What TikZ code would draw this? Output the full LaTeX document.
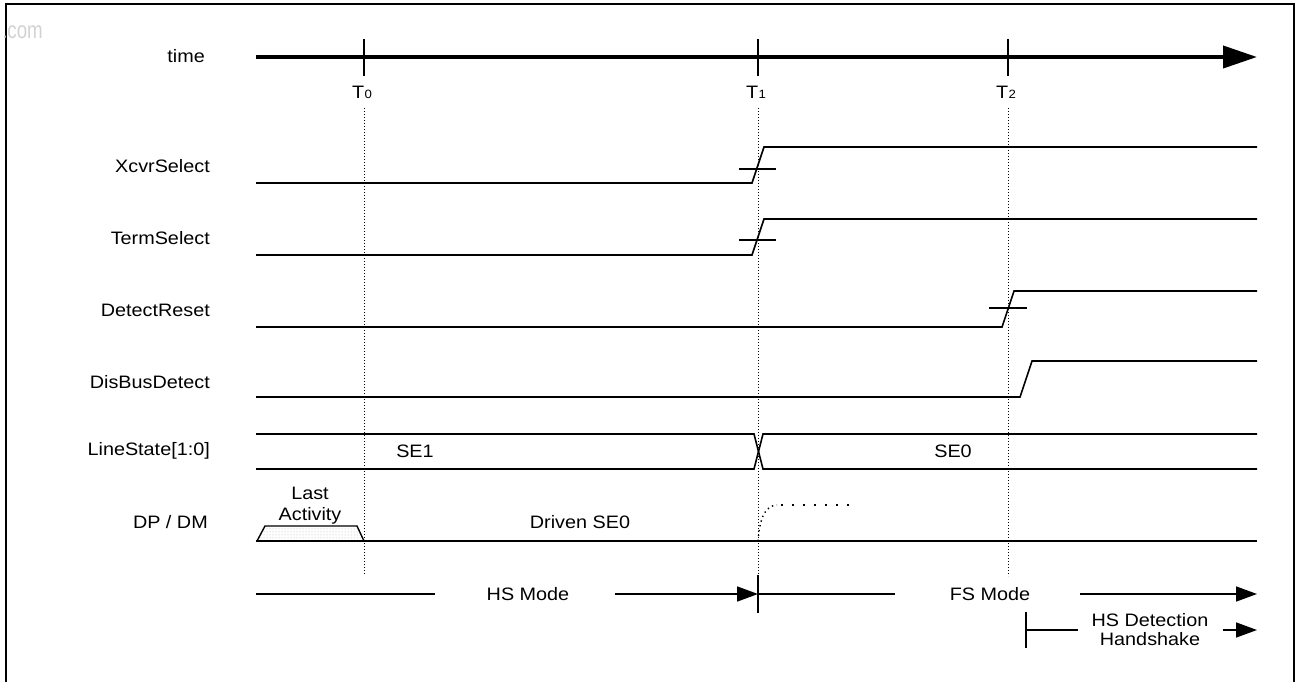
\documentclass[tikz,border=0pt]{standalone}
\usepackage{fontspec}
\setmainfont{Liberation Sans}[FakeStretch=1.1]
\usetikzlibrary{patterns,arrows.meta}
\newcommand{\tlab}[1]{T\kern0.5pt{\fontsize{12}{12}\selectfont #1}}
\begin{document}
\begin{tikzpicture}[x=1pt,y=-1pt,
  sig/.style={line width=1.6pt, line join=miter},
  lbl/.style={font=\fontsize{18}{20}\selectfont, anchor=east, inner sep=0},
  txt/.style={font=\fontsize{18}{20}\selectfont, inner sep=0},
  guide/.style={line width=0.9pt, dash pattern=on 1pt off 2pt},
  tick/.style={line width=1.6pt},
  bigtip/.style={-{Triangle[length=34pt,width=22pt]}},
  smalltip/.style={-{Triangle[length=21pt,width=15pt]}}
]
\useasboundingbox (0,0) rectangle (1301,682);
% frame
\draw[line width=2pt] (6,682) -- (6,4) -- (1294,4) -- (1294,682);
\node[text=gray!35, font=\fontsize{17}{18}\selectfont, anchor=east, inner sep=0] (wm) at (43,32) {\scalebox{1}[1.4]{.com}};

% time axis
\coordinate (ts) at (256,57);
\coordinate (te) at (1257,57);
\draw[line width=4pt, bigtip] (ts) -- (te);
\draw[tick] (364,39) -- (364,76);
\draw[tick] (758,39) -- (758,76);
\draw[tick] (1008,39) -- (1008,76);
\node[txt] (t0) at (362,92) {\tlab{0}};
\node[txt] (t1) at (756,92) {\tlab{1}};
\node[txt] (t2) at (1006,92) {\tlab{2}};

% guides
\draw[guide] (364,108) -- (364,575);
\draw[guide] (758,108) -- (758,576);
\draw[guide] (1008,108) -- (1008,576);

% labels
\node[lbl] (ltime) at (205,56) {time};
\node[lbl] (lx) at (210,166) {XcvrSelect};
\node[lbl] (lt) at (210,238) {TermSelect};
\node[lbl] (ld) at (210,310) {DetectReset};
\node[lbl] (lb) at (210,382) {DisBusDetect};
\node[lbl] (ll) at (210,451) {LineState[1:0]};
\node[lbl] (lp) at (208,522) {DP / DM};

% XcvrSelect
\draw[sig] (256,183) -- (752,183) -- (764,147) -- (1257,147);
\draw[tick] (739,169) -- (776,169);
% TermSelect
\draw[sig] (256,255) -- (752,255) -- (764,219) -- (1257,219);
\draw[tick] (739,240) -- (776,240);
% DetectReset
\draw[sig] (256,327) -- (1002,327) -- (1014,291) -- (1257,291);
\draw[tick] (989,308) -- (1027,308);
% DisBusDetect
\draw[sig] (256,397) -- (1020,397) -- (1032,361) -- (1257,361);
% LineState
\draw[sig] (256,434) -- (754,434) -- (763,469) -- (1257,469);
\draw[sig] (256,469) -- (754,469) -- (763,434) -- (1257,434);
\node[txt] (se1) at (415,451) {SE1};
\node[txt] (se0) at (953,451) {SE0};

% DP / DM
\filldraw[line width=1.4pt, pattern=dots, pattern color=gray!60] (257,541) -- (265,526) -- (357,526) -- (364,541) -- cycle;
\draw[sig] (256,541) -- (1257,541);
\draw[line width=1.4pt, dash pattern=on 1.4pt off 3.5pt] (758,541) .. controls (760,517) and (765,506) .. (777,505);
\draw[line width=1.6pt, dash pattern=on 1.6pt off 9.4pt] (781,505) -- (857,505);
\node[txt] (last) at (310,493.5) {Last};
\node[txt] (act) at (310,516) {Activity};
\node[txt] (dse0) at (580,522) {Driven SE0};

% modes
\node[txt] (hs) at (528,594) {HS Mode};
\node[txt] (fs) at (990,594) {FS Mode};
\coordinate (hsl) at (256,594);
\coordinate (hsa) at (435,594);
\coordinate (hsb) at (615,594);
\coordinate (t1m) at (758,594);
\coordinate (fsa) at (895,594);
\coordinate (fsb) at (1080,594);
\coordinate (fse) at (1257,594);
\draw[sig] (hsl) -- (hsa);
\draw[sig, smalltip] (hsb) -- (t1m);
\draw[tick] (758,575) -- (758,613);
\draw[sig] (t1m) -- (fsa);
\draw[sig, smalltip] (fsb) -- (fse);

\node[txt, align=center] (hsd) at (1150,630) {HS Detection\\[-1pt]Handshake};
\coordinate (hdb) at (1026,630);
\coordinate (hda) at (1078,630);
\coordinate (hdc) at (1223,630);
\coordinate (hde) at (1257,630);
\draw[tick] (1026,612) -- (1026,648);
\draw[sig] (hdb) -- (hda);
\draw[sig, smalltip] (hdc) -- (hde);
\end{tikzpicture}
\end{document}
